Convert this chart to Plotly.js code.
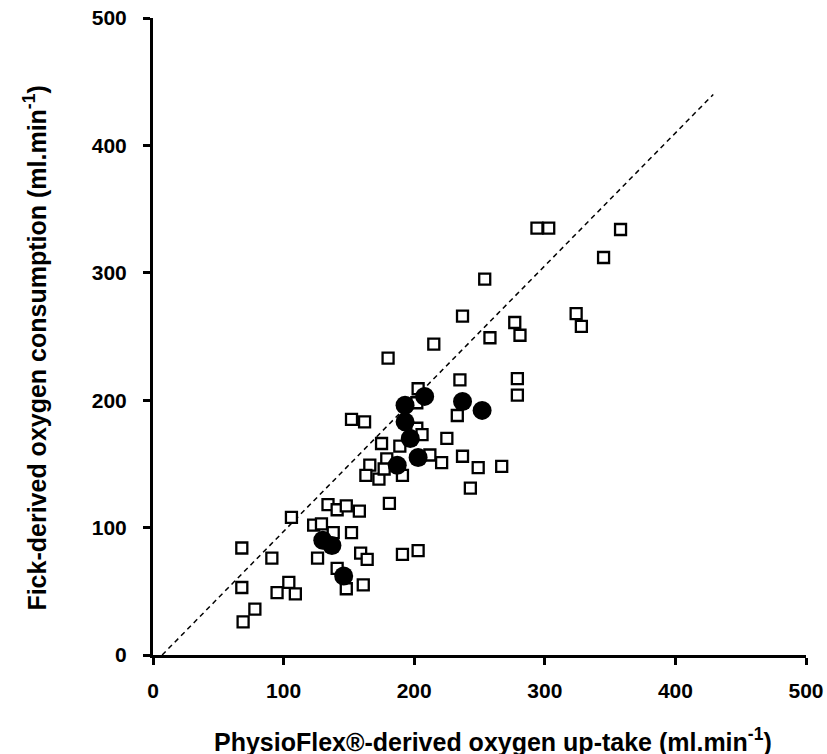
<!DOCTYPE html>
<html>
<head>
<meta charset="utf-8">
<script src="https://cdn.plot.ly/plotly-3.0.1.min.js"></script>
<style>
  html, body { margin: 0; padding: 0; background: #fff; }
  #chart { width: 827px; height: 754px; }
</style>
</head>
<body>
<div id="chart"></div>
<script>
// Open squares: individual measurements (PhysioFlex vs Fick)
const squareX = [68, 68, 69, 78, 91, 95, 104, 109, 106, 123, 129, 134, 141, 148, 158, 181,
                 126, 138, 152, 159, 164, 191, 203, 141, 148, 161,
                 152, 162, 180, 215, 237, 258, 277, 281, 235, 279, 279, 233,
                 225, 237, 221, 249, 267, 243, 212, 203, 202, 202, 206,
                 175, 189, 166, 179, 163, 173, 191, 177,
                 254, 294, 303, 358, 345, 324, 328];
const squareY = [84, 53, 26, 36, 76, 49, 57, 48, 108, 102, 103, 118, 114, 117, 113, 119,
                 76, 96, 96, 80, 75, 79, 82, 68, 52, 55,
                 185, 183, 233, 244, 266, 249, 261, 251, 216, 217, 204, 188,
                 170, 156, 151, 147, 148, 131, 157, 209, 198, 178, 173,
                 166, 164, 149, 154, 141, 138, 141, 146,
                 295, 335, 335, 334, 312, 268, 258];

// Filled circles: second group of measurements
const circleX = [130, 137, 146, 187, 203, 197, 193, 193, 208, 237, 252];
const circleY = [90, 86, 62, 149, 155, 170, 183, 196, 203, 199, 192];

// Regression line end points
const fitX = [7, 429];
const fitY = [0, 440];

const tickVals = [0, 100, 200, 300, 400, 500];
const tickText = tickVals.map(v => '<b>' + v + '</b>');

const xTitle = '<b>PhysioFlex®-derived oxygen up-take (ml.min<sup>-1</sup>)</b>';
const yTitle = '<b>Fick-derived oxygen consumption (ml.min<sup>-1</sup>)</b>';

const FONT = 'Liberation Sans, Arial, sans-serif';

const traces = [
  {
    x: fitX, y: fitY, type: 'scatter', mode: 'lines',
    line: { color: '#000', width: 1.5, dash: '5px,4px' },
    hoverinfo: 'skip'
  },
  {
    x: squareX, y: squareY, type: 'scatter', mode: 'markers',
    marker: { symbol: 'square', size: 11, color: '#fff',
              line: { color: '#000', width: 2.3 } }
  },
  {
    x: circleX, y: circleY, type: 'scatter', mode: 'markers',
    marker: { symbol: 'circle', size: 19, color: '#000',
              line: { color: '#000', width: 0 } }
  }
];

const axisCommon = {
  range: [0, 500],
  tickvals: tickVals,
  ticktext: tickText,
  ticks: 'outside',
  ticklen: 7,
  tickwidth: 3,
  tickcolor: '#000',
  showline: true,
  linewidth: 3,
  linecolor: '#000',
  showgrid: false,
  zeroline: false,
  tickfont: { family: FONT, size: 21, color: '#000' }
};

const layout = {
  width: 827, height: 754,
  margin: { l: 153, r: 21, t: 18, b: 99 },
  paper_bgcolor: '#fff',
  plot_bgcolor: '#fff',
  showlegend: false,
  xaxis: Object.assign({}, axisCommon, { ticklabelstandoff: 8 }),
  yaxis: Object.assign({}, axisCommon, { ticklabelstandoff: 12 }),
  annotations: [
    { text: xTitle, xref: 'paper', yref: 'paper', x: 0.52, y: -0.1335,
      xanchor: 'center', yanchor: 'middle', showarrow: false,
      font: { family: FONT, size: 25, color: '#000' } },
    { text: yTitle, xref: 'paper', yref: 'paper', x: -0.1807, y: 0.481,
      xanchor: 'center', yanchor: 'middle', textangle: -90, showarrow: false,
      font: { family: FONT, size: 25, color: '#000' } }
  ]
};

Plotly.newPlot('chart', traces, layout, { displayModeBar: false, staticPlot: true });
</script>
</body>
</html>
